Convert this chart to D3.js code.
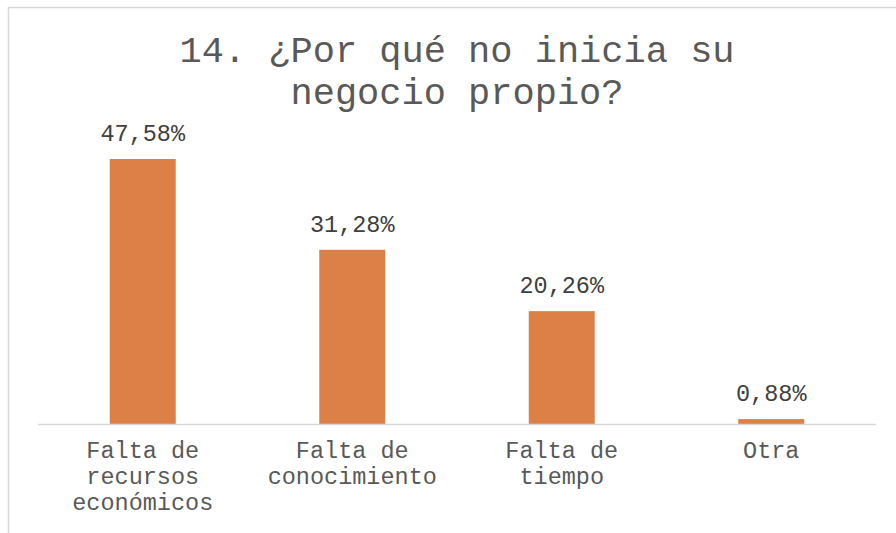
<!DOCTYPE html>
<html>
<head>
<meta charset="utf-8">
<script src="https://cdn.jsdelivr.net/npm/d3@7"></script>
<style>
  body { margin: 0; background: #fff; }
  text { font-family: "Liberation Mono", "DejaVu Sans Mono", monospace; }
</style>
</head>
<body>
<svg width="896" height="533"></svg>
<script>
var categories = [
  ["Falta de", "recursos", "económicos"],
  ["Falta de", "conocimiento"],
  ["Falta de", "tiempo"],
  ["Otra"]
];
var values = [47.58, 31.28, 20.26, 0.88];
var valueLabels = ["47,58%", "31,28%", "20,26%", "0,88%"];
var titleLines = ["14. ¿Por qué no inicia su", "negocio propio?"];

var svg = d3.select("svg"),
    width = +svg.attr("width"),
    height = +svg.attr("height");

// chart frame (only top and left edges show)
svg.append("path")
  .attr("d", "M8.5," + height + " V7.5 H" + width)
  .attr("fill", "none")
  .attr("stroke", "#d9d9d9")
  .attr("stroke-width", 1.5);

var x = d3.scaleBand()
  .domain(d3.range(values.length))
  .range([38, 876])
  .paddingInner(0.685)
  .paddingOuter(0.3425);

var y = d3.scaleLinear()
  .domain([0, 50])
  .range([424, 145.5]);

// title
svg.append("text")
  .attr("x", 457)
  .attr("y", 62)
  .attr("text-anchor", "middle")
  .attr("fill", "#595959")
  .style("font-size", "37px")
  .selectAll("tspan")
  .data(titleLines)
  .enter().append("tspan")
    .attr("x", 457)
    .attr("dy", function(d, i) { return i ? 42 : 0; })
    .text(function(d) { return d; });

// bars
svg.append("g")
  .selectAll("rect")
  .data(values)
  .enter().append("rect")
    .attr("x", function(d, i) { return x(i); })
    .attr("y", function(d) { return y(d); })
    .attr("width", x.bandwidth())
    .attr("height", function(d) { return y(0) - y(d); })
    .attr("fill", "#dd8047");

// axis line
svg.append("line")
  .attr("x1", 38).attr("x2", 876)
  .attr("y1", 424.5).attr("y2", 424.5)
  .attr("stroke", "#d9d9d9")
  .attr("stroke-width", 1.5);

// value labels
svg.append("g")
  .selectAll("text")
  .data(values)
  .enter().append("text")
    .attr("x", function(d, i) { return x(i) + x.bandwidth() / 2; })
    .attr("y", function(d) { return y(d) - 18; })
    .attr("text-anchor", "middle")
    .attr("fill", "#404040")
    .style("font-size", "23.5px")
    .text(function(d, i) { return valueLabels[i]; });

// category labels
svg.append("g")
  .selectAll("text")
  .data(categories)
  .enter().append("text")
    .attr("text-anchor", "middle")
    .attr("fill", "#595959")
    .style("font-size", "23.5px")
    .each(function(lines, i) {
      var cx = x(i) + x.bandwidth() / 2;
      d3.select(this).selectAll("tspan")
        .data(lines)
        .enter().append("tspan")
          .attr("x", cx)
          .attr("y", function(d, j) { return 458 + j * 26; })
          .text(function(d) { return d; });
    });
</script>
</body>
</html>
